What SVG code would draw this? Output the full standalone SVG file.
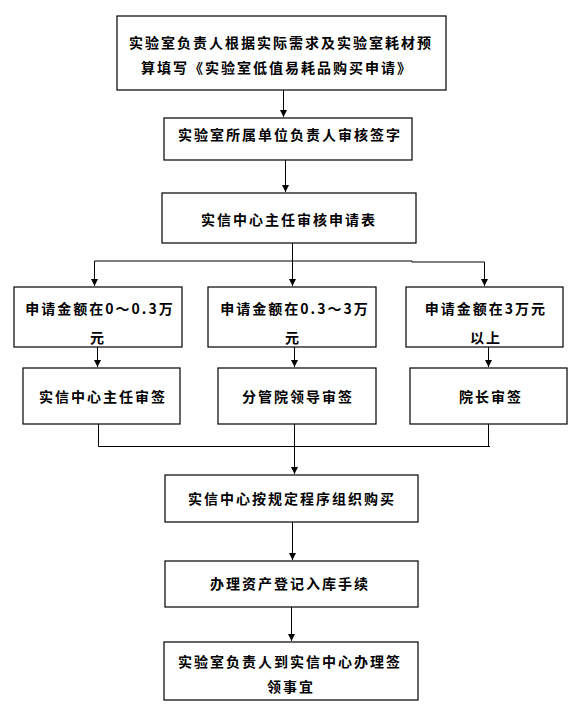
<svg xmlns="http://www.w3.org/2000/svg" width="569" height="716" viewBox="0 0 569 716">
<style>
.box{fill:#fff;stroke:#000;stroke-width:1.2}
.t{font-family:"Noto Sans CJK SC","Liberation Serif",sans-serif;font-size:14px;font-weight:bold;letter-spacing:2px;text-anchor:middle;fill:#000}
.c{fill:none;stroke:#000;stroke-width:1}
</style>
<defs>
<marker id="ah" markerUnits="userSpaceOnUse" markerWidth="8" markerHeight="8" refX="7" refY="3.5" orient="auto">
<path d="M0,0 L7,3.5 L0,7 z" fill="#000"/>
</marker>
</defs>
<rect width="569" height="716" fill="#fff"/>
<g id="connectors">
<path class="c" d="M283.5 90 V117" marker-end="url(#ah)"/>
<path class="c" d="M285.5 160 V192" marker-end="url(#ah)"/>
<path class="c" d="M94.5 261 H412 V262 H484.5"/>
<path class="c" d="M94.5 261 V286" marker-end="url(#ah)"/>
<path class="c" d="M292.5 243 V286" marker-end="url(#ah)"/>
<path class="c" d="M484.5 262 V286" marker-end="url(#ah)"/>
<path class="c" d="M97.5 347 V367" marker-end="url(#ah)"/>
<path class="c" d="M294.5 347 V367" marker-end="url(#ah)"/>
<path class="c" d="M488.5 347 V367" marker-end="url(#ah)"/>
<path class="c" d="M98.5 424 V446.5 H490"/>
<path class="c" d="M488.5 424 V446.5"/>
<path class="c" d="M294.5 424 V474" marker-end="url(#ah)"/>
<path class="c" d="M292.5 522 V560" marker-end="url(#ah)"/>
<path class="c" d="M291.5 607 V641" marker-end="url(#ah)"/>
</g>
<g id="n1">
<rect class="box" x="117" y="16" width="329" height="74"/>
<text class="t" x="281" y="48">实验室负责人根据实际需求及实验室耗材预</text>
<text class="t" x="277" y="73">算填写《实验室低值易耗品购买申请》</text>
</g>
<g id="n2">
<rect class="box" x="164" y="118" width="248" height="42"/>
<text class="t" x="290" y="140">实验室所属单位负责人审核签字</text>
</g>
<g id="n3">
<rect class="box" x="162" y="193" width="254" height="50"/>
<text class="t" x="289" y="225">实信中心主任审核申请表</text>
</g>
<g id="n4">
<rect class="box" x="14" y="287" width="168" height="60"/>
<text class="t" x="100" y="314">申请金额在0～0.3万</text>
<text class="t" x="98" y="343">元</text>
</g>
<g id="n5">
<rect class="box" x="208" y="287" width="168" height="60"/>
<text class="t" x="295" y="314">申请金额在0.3～3万</text>
<text class="t" x="293" y="343">元</text>
</g>
<g id="n6">
<rect class="box" x="406" y="287" width="157" height="60"/>
<text class="t" x="486" y="314">申请金额在3万元</text>
<text class="t" x="486" y="343">以上</text>
</g>
<g id="n7">
<rect class="box" x="23" y="368" width="157" height="56"/>
<text class="t" x="103" y="402">实信中心主任审签</text>
</g>
<g id="n8">
<rect class="box" x="218" y="368" width="158" height="56"/>
<text class="t" x="298" y="402">分管院领导审签</text>
</g>
<g id="n9">
<rect class="box" x="410" y="368" width="157" height="56"/>
<text class="t" x="491" y="402">院长审签</text>
</g>
<g id="n10">
<rect class="box" x="165" y="475" width="253" height="47"/>
<text class="t" x="292" y="504">实信中心按规定程序组织购买</text>
</g>
<g id="n11">
<rect class="box" x="165" y="561" width="253" height="46"/>
<text class="t" x="290" y="589">办理资产登记入库手续</text>
</g>
<g id="n12">
<rect class="box" x="164" y="642" width="254" height="58"/>
<text class="t" x="290" y="667">实验室负责人到实信中心办理签</text>
<text class="t" x="291" y="692">领事宜</text>
</g>
</svg>
